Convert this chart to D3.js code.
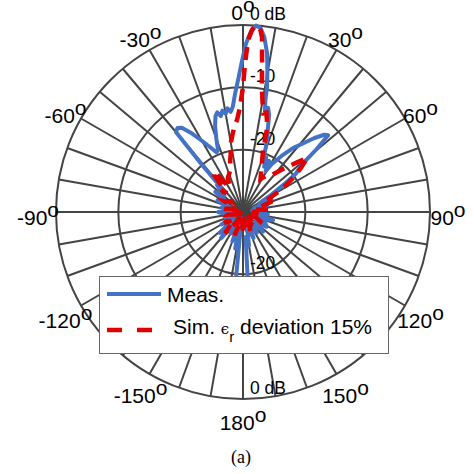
<!DOCTYPE html>
<html>
<head>
<meta charset="utf-8">
<script src="https://cdn.jsdelivr.net/npm/d3@7"></script>
<style>
  body { margin: 0; background: #fff; }
  svg { display: block; font-family: "Liberation Sans", Arial, sans-serif; }
</style>
</head>
<body>
<div id="chart"></div>
<script>
// radial axis (dB) and angle ticks
const ringDb = [0, -10, -20];
const ringLabelsTop = ["0 dB", "-10", "-20"];
const ringLabelsBottom = ["0 dB", "-10", "-20"];
const angleTicks = [0, 30, 60, 90, 120, 150, 180, -150, -120, -90, -60, -30];

// measured pattern (deg, dB)
const measAngle = [-180, -176, -174, -172, -168, -164, -160, -156, -150, -146, -140, -136, -132, -126, -120, -114, -108, -102, -96, -90,
  -84, -78, -72, -66, -60, -54, -48, -44, -42, -41, -40, -38, -36, -33, -30, -27, -24, -22, -20, -18,
  -16, -14.5, -13, -11.5, -10, -8.5, -7, -5.5, -4, -2, -0.5, 1, 2.5, 4, 5.5, 7, 8.6, 9.8, 10.9, 11.3,
  12.2, 13.5, 15, 17, 19, 21, 23, 25, 27, 29, 31, 33, 35, 38, 41, 44, 46.5, 48, 49.5, 51,
  54, 56, 59, 62, 66, 70, 75, 80, 85, 90, 95, 100, 105, 110, 116, 122, 128, 134, 140, 146,
  152, 158, 164, 170, 174, 176, 178, 180];
const measDb = [-16, -16, -19, -27, -24, -28, -25, -29, -26, -28, -24.5, -27, -25, -28, -26, -29, -27, -28.5, -27, -26,
  -28, -26.5, -28, -25.5, -27, -24.5, -26, -24, -25, -20, -13.3, -12.9, -13.3, -15, -16.8, -18.3, -19.5, -19.3, -17.5, -15.5,
  -14, -13.5, -14.2, -13.4, -14, -13.2, -13.8, -13, -11.2, -8.6, -6, -3, -1, 0, -0.4, -1.8, -4.2, -7, -9.6, -11.7,
  -13.3, -12.8, -13.8, -16.5, -18.3, -21, -20.5, -22, -20.8, -22.5, -21, -20, -18.8, -17, -15.5, -13.5, -12, -11.6, -14.5, -17.5,
  -19.5, -22, -25, -27, -25, -28, -26, -28.5, -26.5, -28, -26, -27.5, -25, -27, -26, -25.5, -27.5, -25.5, -28, -26,
  -28.5, -25.5, -27.5, -24.5, -26, -19, -16, -16];

// simulated pattern, eps_r deviation 15% (deg, dB)
const simAngle = [-180, -170, -160, -150, -140, -130, -120, -110, -100, -90, -80, -70, -60, -50, -44, -41, -38, -35, -32, -28,
  -24, -20, -17, -14, -12, -9.7, -7.5, -5.3, -3.7, -1.6, 0, 0.8, 1.7, 3, 4.3, 5.5, 6.2, 7.3, 8.6, 10,
  11.7, 13.2, 16, 18, 22, 28, 33, 38, 43, 47, 50, 53, 56, 60, 64, 70, 78, 85, 92, 100,
  110, 120, 130, 140, 150, 160, 170, 180];
const simDb = [-27, -29, -26, -28.5, -25.5, -28, -26.5, -29, -27.5, -28, -27, -28.5, -26.5, -27.5, -25, -26, -22.5, -22, -24.5, -25.5,
  -24, -23.5, -23, -21.5, -20.5, -18.6, -17.3, -16, -15.2, -13.1, -9.9, -6.1, -2.4, -0.6, 0, -0.7, -1.8, -5.9, -9.7, -12,
  -13.8, -13.6, -15.8, -19.6, -22, -24, -23, -22.5, -20.5, -18.5, -16.5, -18.5, -20.5, -23, -26, -25, -28, -26, -28.5, -27,
  -28, -26.5, -29, -27, -28, -26.5, -28.5, -27];

const width = 474, height = 474;
const cx = 243, cy = 212, R = 187;

const svg = d3.select("#chart").append("svg")
  .attr("width", width)
  .attr("height", height);

const r = d3.scaleLinear().domain([-30, 0]).range([0, R]).clamp(true);
const rad = d => d * Math.PI / 180;

const g = svg.append("g").attr("transform", `translate(${cx},${cy})`);

// spokes every 10 degrees
const spokes = d3.range(0, 360, 10);
g.selectAll("line.spoke")
  .data(spokes)
  .enter()
  .append("line")
  .attr("x1", 0).attr("y1", 0)
  .attr("x2", d => R * Math.sin(rad(d)))
  .attr("y2", d => -R * Math.cos(rad(d)))
  .attr("stroke", "#444")
  .attr("stroke-width", 2);

// rings
g.selectAll("circle.ring")
  .data(ringDb)
  .enter()
  .append("circle")
  .attr("r", d => r(d))
  .attr("fill", "none")
  .attr("stroke", "#444")
  .attr("stroke-width", 2);

// ring labels (top and bottom)
g.selectAll("text.rtop")
  .data(ringDb)
  .enter()
  .append("text")
  .attr("x", 7)
  .attr("y", d => -r(d) - 5)
  .attr("font-size", 17.5)
  .text((d, i) => ringLabelsTop[i]);

g.selectAll("text.rbot")
  .data(ringDb)
  .enter()
  .append("text")
  .attr("x", 7)
  .attr("y", d => r(d) - 5)
  .attr("font-size", 17.5)
  .text((d, i) => ringLabelsBottom[i]);

// angle labels
const angLab = g.selectAll("text.ang")
  .data(angleTicks)
  .enter()
  .append("text")
  .attr("x", d => 205 * Math.sin(rad(d)))
  .attr("y", d => -205 * Math.cos(rad(d)) + 13)
  .attr("text-anchor", "middle")
  .attr("font-size", 21);
angLab.append("tspan").text(d => d);
angLab.append("tspan").attr("dy", -8).text("o");

// pattern lines
const line = d3.lineRadial()
  .angle(d => rad(d[0]))
  .radius(d => r(d[1]));

const meas = d3.zip(measAngle, measDb);
const sim = d3.zip(simAngle, simDb);

g.append("path")
  .attr("d", line(meas))
  .attr("fill", "none")
  .attr("stroke", "#4472C4")
  .attr("stroke-width", 4)
  .attr("stroke-linejoin", "round");

g.append("path")
  .attr("d", line(sim))
  .attr("fill", "none")
  .attr("stroke", "#E00000")
  .attr("stroke-width", 4.5)
  .attr("stroke-dasharray", "13,8");

// legend
const leg = svg.append("g");
leg.append("rect")
  .attr("x", 99.5).attr("y", 276.5)
  .attr("width", 289).attr("height", 77)
  .attr("fill", "#fff")
  .attr("stroke", "#666")
  .attr("stroke-width", 1);
leg.append("line")
  .attr("x1", 107).attr("x2", 161).attr("y1", 294).attr("y2", 294)
  .attr("stroke", "#4472C4").attr("stroke-width", 4);
leg.append("text")
  .attr("x", 167).attr("y", 302)
  .attr("font-size", 21)
  .text("Meas.");
leg.append("line")
  .attr("x1", 107).attr("x2", 161).attr("y1", 330).attr("y2", 330)
  .attr("stroke", "#E00000").attr("stroke-width", 4.5)
  .attr("stroke-dasharray", "15,15");
const simLab = leg.append("text")
  .attr("x", 173).attr("y", 334)
  .attr("font-size", 21);
simLab.append("tspan").text("Sim. ");
simLab.append("tspan").attr("font-size", 15).attr("font-family", "DejaVu Serif").text("\u03F5");
simLab.append("tspan").attr("font-size", 15).attr("dy", 8).text("r");
simLab.append("tspan").attr("dy", -8).text(" deviation 15%");

// caption
svg.append("text")
  .attr("x", 241).attr("y", 463)
  .attr("text-anchor", "middle")
  .attr("font-family", "Liberation Serif, Times New Roman, serif")
  .attr("font-size", 18)
  .text("(a)");
</script>
</body>
</html>
